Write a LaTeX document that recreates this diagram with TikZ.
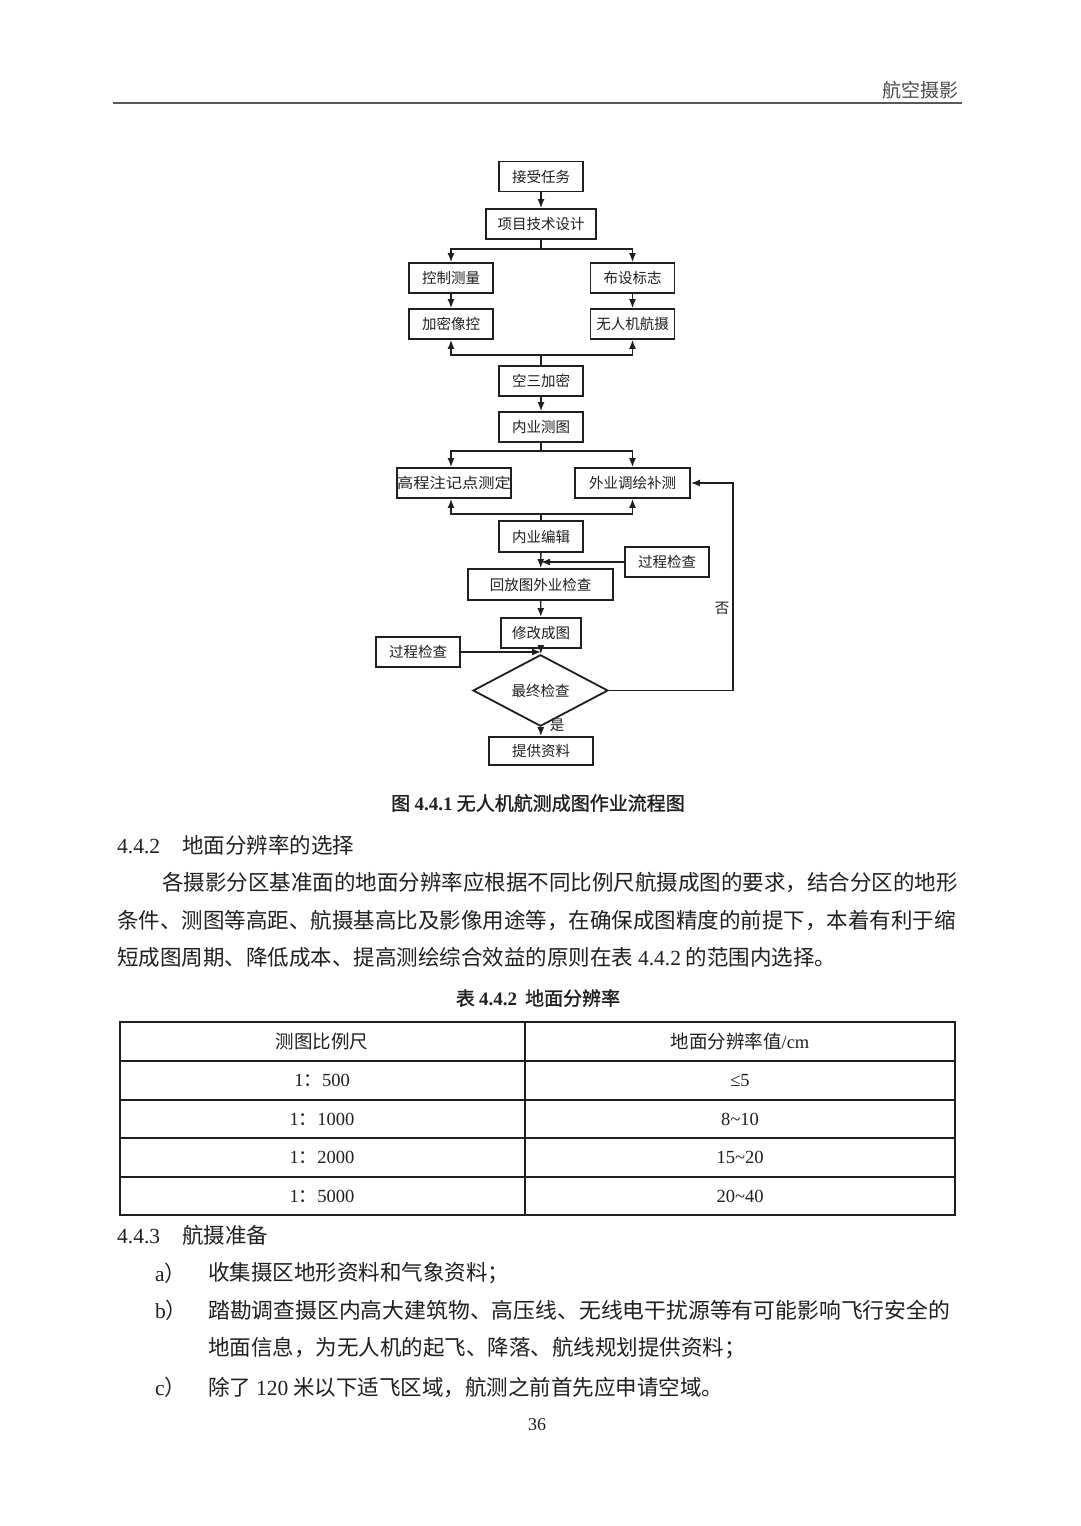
\documentclass[tikz,border=0pt]{standalone}
\usepackage{graphicx}
\usepackage{fontspec}
\setmainfont{Liberation Serif}
\newfontfamily\cjk{Noto Sans CJK SC}[AutoFakeBold=1.2]
\usetikzlibrary{shapes.geometric,arrows.meta}
\newcommand\lat[1]{{\rmfamily #1}}
\newcommand\fsz[1]{\fontsize{#1}{#1}\selectfont}
\definecolor{ink}{gray}{0.12}
\begin{document}
\begin{tikzpicture}[x=1pt,y=-1pt,
  fbox/.style={draw=ink, line width=1.8pt, minimum height=30pt, inner sep=0pt, text=ink, font=\cjk\fsz{14.5}},
  conn/.style={draw=ink, line width=1.4pt},
  arr/.style={conn, -{Latex[length=9pt,width=7pt]}},
  lbl/.style={text=ink, font=\cjk\fsz{14.5}, inner sep=0pt},
  body/.style={text=ink, font=\cjk\fsz{21.5}, inner sep=0pt, anchor=west},
  captext/.style={text=ink, font=\cjk\bfseries\fsz{19}, inner sep=0pt},
  cell/.style={text=ink, font=\cjk\fsz{18.5}, inner sep=0pt},
  tbl/.style={draw=ink, line width=1.3pt}]
\useasboundingbox[fill=white] (0,0) rectangle (1080,1526);

% header
\node[text=black!70, font=\cjk\fsz{19}, inner sep=0pt, anchor=east] (hdr) at (959,90) {航空摄影};
\coordinate (hl) at (113,103);
\coordinate (hr) at (962,103);
\draw[line width=2.5pt, black!65] (hl) -- (hr);

% flowchart
\node[fbox, minimum width=84pt] (a1) at (541,176.5) {接受任务};
\node[fbox, minimum width=110pt] (a2) at (541,224) {项目技术设计};
\node[fbox, minimum width=84pt] (b1) at (451,278) {控制测量};
\node[fbox, minimum width=84pt] (c1) at (632.5,278) {布设标志};
\node[fbox, minimum width=84pt] (b2) at (451,324) {加密像控};
\node[fbox, minimum width=84pt] (c2) at (632.5,324) {无人机航摄};
\node[fbox, minimum width=84pt] (d1) at (541,381) {空三加密};
\node[fbox, minimum width=84pt] (d2) at (541,427) {内业测图};
\node[fbox, minimum width=110pt] (e1) at (454,483) {\scalebox{1.12}[1]{高程注记点测定}};
\node[fbox, minimum width=115pt] (f1) at (632.5,483) {外业调绘补测};
\node[fbox, minimum width=84pt, minimum height=31pt] (g1) at (541,536.5) {内业编辑};
\node[fbox, minimum width=84pt] (p1) at (667,562) {过程检查};
\node[fbox, minimum width=145pt, minimum height=31pt] (h1) at (540.5,584.5) {回放图外业检查};
\node[fbox, minimum width=80pt] (i1) at (541,633) {修改成图};
\node[fbox, minimum width=84pt] (p2) at (418,652) {过程检查};
\node[fbox, shape=diamond, minimum width=135pt, minimum height=51pt] (q1) at (540.5,690.5) {最终检查};
\node[fbox, minimum width=104pt, minimum height=28pt] (r1) at (541,751) {提供资料};

\coordinate (s1) at (541,249);
\coordinate (m1) at (541,355);
\coordinate (s2) at (541,451);
\coordinate (m2) at (541,514);
\coordinate (fb) at (733,690.5);

\draw[arr] (a1) -- (a2);
\draw[conn] (a2.south) -- (s1);
\draw[arr] (s1) -| (b1.north);
\draw[arr] (s1) -| (c1.north);
\draw[arr] (b1) -- (b2);
\draw[arr] (c1) -- (c2);
\draw[arr] (m1) -| (b2.south);
\draw[arr] (m1) -| (c2.south);
\draw[conn] (m1) -- (d1.north);
\draw[arr] (d1) -- (d2);
\draw[conn] (d2.south) -- (s2);
\draw[arr] (s2) -| (e1.north -| b1.south);
\draw[arr] (s2) -| (f1.north);
\draw[arr] (m2) -| (e1.south -| b1.south);
\draw[arr] (m2) -| (f1.south);
\draw[conn] (m2) -- (g1.north);
\draw[arr] (g1) -- (h1);
\draw[arr] (p1.west) -- (p1.west -| g1.south);
\draw[arr] (h1) -- (i1);
\draw[arr] (i1) -- (q1);
\draw[arr] (p2.east) -- (p2.east -| i1.south);
\draw[arr] (q1.east) -- (fb) |- (f1.east);
\draw[arr] (q1) -- (r1);
\node[lbl] (no) at (722,608) {否};
\node[lbl] (yes) at (557,725) {是};

% caption
\node[captext] (cap1) at (538,803) {图 \lat{4.4.1} 无人机航测成图作业流程图};

% section 4.4.2
\node[body] (h442) at (117,845) {\lat{4.4.2}\hspace{22pt}地面分辨率的选择};
\node[body] (pl1) at (162,882) {各摄影分区基准面的地面分辨率应根据不同比例尺航摄成图的要求，结合分区的地形};
\node[body] (pl2) at (117,920) {条件、测图等高距、航摄基高比及影像用途等，在确保成图精度的前提下，本着有利于缩};
\node[body] (pl3) at (117,957) {短成图周期、降低成本、提高测绘综合效益的原则在表 \lat{4.4.2} 的范围内选择。};

% table
\node[captext] (cap2) at (538,998) {表 \lat{4.4.2}\hspace{8pt}地面分辨率};
\coordinate (tl) at (120,1022);
\coordinate (br) at (955,1215);
\draw[tbl] (tl) rectangle (br);
\foreach \yy in {1061,1100,1138,1177} \draw[tbl] (120,\yy) -- (955,\yy);
\draw[tbl] (525,1022) -- (525,1215);
\node[cell] (t00) at (322,1041.5) {测图比例尺};
\node[cell] (t01) at (740,1041.5) {地面分辨率值\lat{/cm}};
\node[cell] (t10) at (322,1080.5) {\lat{1}：\lat{500}};
\node[cell] (t11) at (740,1080.5) {\lat{≤5}};
\node[cell] (t20) at (322,1119) {\lat{1}：\lat{1000}};
\node[cell] (t21) at (740,1119) {\lat{8\textasciitilde10}};
\node[cell] (t30) at (322,1157.5) {\lat{1}：\lat{2000}};
\node[cell] (t31) at (740,1157.5) {\lat{15\textasciitilde20}};
\node[cell] (t40) at (322,1196) {\lat{1}：\lat{5000}};
\node[cell] (t41) at (740,1196) {\lat{20\textasciitilde40}};

% section 4.4.3
\node[body] (h443) at (117,1235) {\lat{4.4.3}\hspace{22pt}航摄准备};
\node[body] (la) at (155,1273) {\lat{a}）};
\node[body] (ta) at (208,1273) {收集摄区地形资料和气象资料；};
\node[body] (lb) at (155,1310) {\lat{b}）};
\node[body] (tb1) at (208,1310) {\scalebox{1.015}[1]{踏勘调查摄区内高大建筑物、高压线、无线电干扰源等有可能影响飞行安全的}};
\node[body] (tb2) at (208,1348) {地面信息，为无人机的起飞、降落、航线规划提供资料；};
\node[body] (lc) at (155,1387) {\lat{c}）};
\node[body] (tc) at (208,1387) {除了 \lat{120} 米以下适飞区域，航测之前首先应申请空域。};

\node[text=ink, font=\rmfamily\fsz{18}, inner sep=0pt] (pg) at (537,1425) {36};
\end{tikzpicture}
\end{document}
